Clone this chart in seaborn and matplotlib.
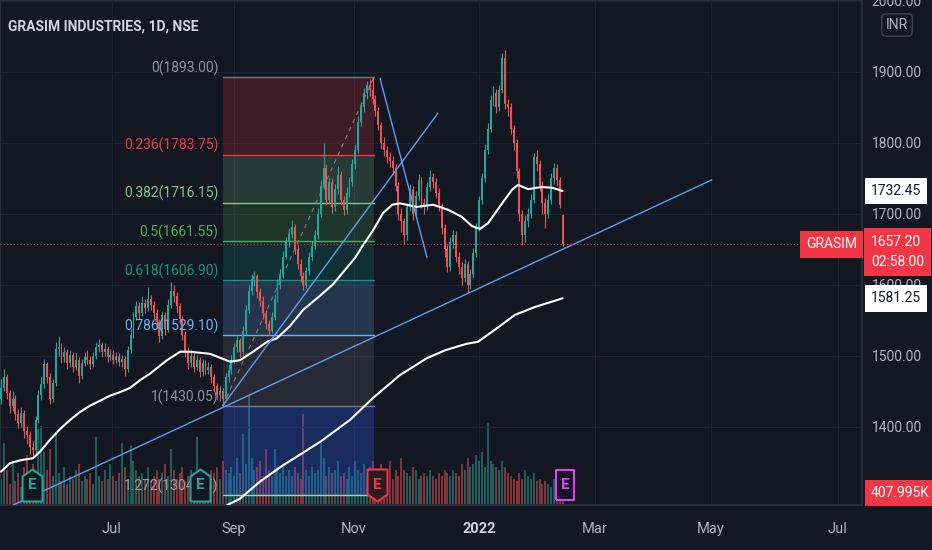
import matplotlib
matplotlib.use("Agg")
import matplotlib.pyplot as plt
from matplotlib import transforms, font_manager
from matplotlib.path import Path
import numpy as np
import pandas as pd
import seaborn as sns

# daily candles, index = bar number (mid May 2021 -> 18 Feb 2022)
opens = [1440, 1455, 1470, 1448, 1430, 1440, 1418, 1405, 1420, 1395,
         1388, 1372, 1368, 1410, 1445, 1460, 1488, 1470, 1440, 1462,
         1510, 1512, 1498, 1505, 1490, 1502, 1485, 1495, 1472, 1490,
         1498, 1495, 1488, 1500, 1512, 1515, 1505, 1510, 1498, 1502,
         1495, 1500, 1492, 1496, 1482, 1508, 1530, 1555, 1570, 1560,
         1575, 1568, 1580, 1572, 1560, 1548, 1528, 1558, 1538, 1572,
         1592, 1585, 1570, 1552, 1530, 1505, 1490, 1500, 1485, 1495,
         1478, 1490, 1480, 1485, 1470, 1458, 1445, 1450, 1440, 1470,
         1480, 1495, 1512, 1522, 1505, 1535, 1565, 1592, 1608, 1612,
         1590, 1578, 1560, 1545, 1535, 1555, 1580, 1600, 1615, 1640,
         1660, 1672, 1682, 1650, 1630, 1612, 1600, 1620, 1640, 1655,
         1670, 1700, 1740, 1765, 1720, 1745, 1710, 1735, 1755, 1720,
         1705, 1730, 1745, 1770, 1790, 1830, 1850, 1870, 1882, 1875,
         1862, 1845, 1825, 1800, 1790, 1780, 1775, 1765, 1740, 1700,
         1690, 1670, 1710, 1735, 1700, 1725, 1748, 1715, 1712, 1738,
         1752, 1745, 1730, 1712, 1680, 1650, 1625, 1660, 1670, 1640,
         1625, 1610, 1630, 1600, 1615, 1645, 1680, 1720, 1750, 1790,
         1820, 1860, 1870, 1850, 1875, 1920, 1855, 1850, 1820, 1800,
         1760, 1700, 1670, 1690, 1700, 1720, 1780, 1770, 1740, 1715,
         1700, 1720, 1750, 1765, 1748, 1698]
highs = [1468, 1482, 1474, 1452, 1450, 1445, 1425, 1428, 1424, 1402,
         1394, 1380, 1415, 1452, 1470, 1496, 1492, 1476, 1468, 1520,
         1528, 1518, 1512, 1510, 1508, 1506, 1504, 1498, 1496, 1505,
         1508, 1500, 1506, 1520, 1524, 1520, 1518, 1514, 1510, 1508,
         1506, 1504, 1502, 1500, 1514, 1538, 1562, 1578, 1576, 1584,
         1580, 1597, 1586, 1578, 1566, 1552, 1564, 1562, 1580, 1604,
         1600, 1590, 1575, 1556, 1535, 1512, 1508, 1505, 1502, 1498,
         1496, 1494, 1492, 1488, 1474, 1462, 1458, 1455, 1476, 1488,
         1502, 1518, 1530, 1526, 1542, 1572, 1600, 1616, 1620, 1616,
         1596, 1584, 1565, 1550, 1562, 1588, 1608, 1622, 1648, 1668,
         1680, 1692, 1686, 1656, 1636, 1618, 1626, 1646, 1662, 1678,
         1708, 1748, 1800, 1770, 1752, 1750, 1742, 1768, 1760, 1726,
         1738, 1752, 1778, 1798, 1838, 1858, 1878, 1888, 1890, 1893,
         1868, 1850, 1830, 1808, 1796, 1788, 1782, 1770, 1745, 1708,
         1695, 1716, 1742, 1740, 1732, 1756, 1752, 1722, 1745, 1762,
         1758, 1750, 1736, 1716, 1686, 1656, 1668, 1678, 1676, 1646,
         1632, 1636, 1634, 1622, 1652, 1688, 1726, 1758, 1798, 1828,
         1868, 1880, 1876, 1882, 1927, 1931, 1862, 1856, 1826, 1806,
         1765, 1706, 1698, 1708, 1728, 1786, 1790, 1776, 1746, 1722,
         1728, 1758, 1772, 1770, 1752, 1700]
lows = [1432, 1450, 1440, 1420, 1422, 1410, 1398, 1400, 1385, 1376,
        1362, 1358, 1362, 1405, 1438, 1455, 1462, 1432, 1435, 1458,
        1500, 1490, 1492, 1482, 1484, 1478, 1480, 1462, 1468, 1486,
        1488, 1482, 1484, 1496, 1505, 1498, 1500, 1492, 1494, 1488,
        1490, 1486, 1484, 1472, 1478, 1504, 1526, 1550, 1552, 1556,
        1560, 1564, 1565, 1552, 1540, 1520, 1524, 1530, 1534, 1568,
        1576, 1560, 1545, 1522, 1498, 1482, 1485, 1478, 1480, 1470,
        1472, 1474, 1475, 1462, 1450, 1438, 1436, 1430, 1436, 1464,
        1475, 1490, 1506, 1498, 1500, 1530, 1560, 1586, 1598, 1582,
        1570, 1552, 1538, 1530, 1532, 1550, 1576, 1594, 1610, 1636,
        1654, 1666, 1644, 1622, 1604, 1593, 1596, 1614, 1634, 1650,
        1665, 1696, 1735, 1712, 1714, 1702, 1704, 1728, 1712, 1698,
        1700, 1724, 1740, 1764, 1786, 1824, 1844, 1862, 1866, 1855,
        1838, 1818, 1792, 1782, 1772, 1766, 1756, 1732, 1692, 1675,
        1658, 1664, 1704, 1692, 1695, 1720, 1708, 1700, 1706, 1732,
        1736, 1722, 1704, 1672, 1640, 1618, 1620, 1652, 1632, 1615,
        1600, 1604, 1589, 1594, 1610, 1640, 1676, 1714, 1745, 1785,
        1815, 1852, 1842, 1845, 1870, 1848, 1838, 1812, 1790, 1750,
        1690, 1657, 1660, 1682, 1694, 1715, 1760, 1732, 1700, 1680,
        1694, 1714, 1742, 1740, 1708, 1655]
closes = [1455, 1470, 1448, 1430, 1440, 1418, 1405, 1420, 1395, 1388,
          1372, 1368, 1410, 1445, 1460, 1488, 1470, 1440, 1462, 1510,
          1512, 1498, 1505, 1490, 1502, 1485, 1495, 1472, 1490, 1498,
          1495, 1488, 1500, 1512, 1515, 1505, 1510, 1498, 1502, 1495,
          1500, 1492, 1496, 1482, 1508, 1530, 1555, 1570, 1560, 1575,
          1568, 1580, 1572, 1560, 1548, 1528, 1558, 1538, 1572, 1592,
          1585, 1570, 1552, 1530, 1505, 1490, 1500, 1485, 1495, 1478,
          1490, 1480, 1485, 1470, 1458, 1445, 1450, 1440, 1470, 1480,
          1495, 1512, 1522, 1505, 1535, 1565, 1592, 1608, 1612, 1590,
          1578, 1560, 1545, 1535, 1555, 1580, 1600, 1615, 1640, 1660,
          1672, 1682, 1650, 1630, 1612, 1600, 1620, 1640, 1655, 1670,
          1700, 1740, 1765, 1720, 1745, 1710, 1735, 1755, 1720, 1705,
          1730, 1745, 1770, 1790, 1830, 1850, 1870, 1882, 1875, 1862,
          1845, 1825, 1800, 1790, 1780, 1775, 1765, 1740, 1700, 1690,
          1670, 1710, 1735, 1700, 1725, 1748, 1715, 1712, 1738, 1752,
          1745, 1730, 1712, 1680, 1650, 1625, 1660, 1670, 1640, 1625,
          1610, 1630, 1600, 1615, 1645, 1680, 1720, 1750, 1790, 1820,
          1860, 1870, 1850, 1875, 1920, 1855, 1850, 1820, 1800, 1760,
          1700, 1670, 1690, 1700, 1720, 1780, 1770, 1740, 1715, 1700,
          1720, 1750, 1765, 1748, 1712, 1657.2]
# volume in thousands
volumes_k = [900, 2100, 1200, 700, 1500, 800, 1100, 600, 1300, 1700,
             1000, 1400, 900, 2600, 2700, 1800, 1200, 1900, 1000, 2400,
             1100, 800, 1300, 700, 1000, 900, 1200, 1400, 800, 1000,
             900, 1100, 700, 2300, 1000, 800, 1200, 900, 1400, 1000,
             800, 1100, 2100, 1300, 900, 2000, 1500, 1200, 1000, 1100,
             900, 1300, 800, 1000, 1200, 900, 1100, 1400, 1000, 1900,
             1200, 900, 1100, 1300, 800, 1000, 1200, 900, 2300, 1100,
             1000, 800, 900, 1200, 1100, 1300, 900, 1500, 1200, 1100,
             1300, 1000, 1600, 1100, 2400, 1400, 3700, 1600, 1200, 1300,
             1500, 1000, 1900, 1200, 1000, 1900, 1300, 1100, 1400, 1000,
             1200, 1000, 1300, 1100, 900, 3100, 1200, 1000, 1300, 1100,
             1200, 2100, 1600, 1000, 1300, 1100, 1200, 1500, 1000, 1100,
             900, 1300, 1000, 1500, 1200, 1100, 1400, 1000, 1300, 1500,
             1200, 1000, 1400, 1100, 1000, 1500, 900, 1200, 1000, 1600,
             1200, 1100, 1000, 1300, 1200, 900, 1000, 1100, 1000, 1200,
             1000, 900, 1100, 1000, 1200, 1100, 1000, 1200, 1100, 1000,
             1400, 1200, 1600, 1300, 1400, 1700, 1500, 1800, 1300, 2800,
             1500, 1400, 1300, 1200, 1500, 1300, 1100, 1000, 900, 800,
             1100, 900, 1200, 1000, 900, 1100, 800, 900, 700, 800,
             700, 600, 900, 500, 450, 408]

# moving averages (bar, price)
ma50_bar = [0, 3.1, 6.6, 11.1, 13.5, 17, 20.5, 24, 27.4, 30.9, 34.4, 37.8, 41.3, 44.8,
            48.3, 51.7, 57.6, 62.2, 65.6, 72.6, 79.5, 83, 87.5, 92.4, 95.8, 100.3, 104.9,
            110.8, 115.3, 119.4, 122.9, 125.7, 129.2, 132.6, 135.8, 138.5, 144.4, 150,
            155.2, 160, 163.5, 166.3, 169.1, 174, 177.4, 179.5, 183, 187.8, 191.3, 195]
ma50_val = [1337, 1349, 1353, 1356, 1365, 1382, 1397, 1410, 1421, 1430, 1437, 1444, 1449,
            1455, 1466, 1475, 1494, 1506, 1506, 1503, 1492, 1494, 1506, 1520, 1525, 1542,
            1565, 1585, 1601, 1621, 1638, 1656, 1677, 1701, 1713, 1715, 1710, 1713, 1706,
            1696, 1683, 1679, 1687, 1715, 1734, 1741, 1735, 1738, 1737, 1732.45]
ma200_bar = [78.5, 83, 89.9, 97.9, 103.8, 110.8, 121.2, 129.2, 138.5, 147.9, 154.2,
             161.5, 165.6, 171.5, 178.5, 185.4, 195]
ma200_val = [1290, 1299, 1323, 1346, 1361, 1379, 1410, 1441, 1473, 1497, 1508, 1517,
             1520, 1537, 1558, 1569, 1581.25]

month_pos = [38.5, 80.9, 122.6, 166, 206.3, 246.5, 290.6]
month_labels = ["Jul", "Sep", "Nov", "2022", "Mar", "May", "Jul"]
price_ticks = [1400, 1500, 1600, 1700, 1800, 1900, 2000]

# fibonacci retracement drawn from the Aug low to the Nov high
fib_start, fib_end = 77, 129.5
fib_ratios = ["0", "0.236", "0.382", "0.5", "0.618", "0.786", "1", "1.272"]
fib_prices = [1893.00, 1783.75, 1716.15, 1661.55, 1606.90, 1529.10, 1430.05, 1304.15]
fib_line_colors = ["#787b86", "#f23645", "#81c784", "#4caf50", "#089981", "#64b5f6", "#787b86", "#a5d6a7"]
fib_text_colors = ["#8d909a", "#f23645", "#81c784", "#4caf50", "#089981", "#64b5f6", "#8d909a", "#9a9da6"]
fib_fill_colors = ["#f23645", "#81c784", "#4caf50", "#089981", "#64b5f6", "#787b86", "#2962ff"]

trend_lines = [((4.2, 1290), (246.8, 1748)),
               ((77, 1430.05), (151.7, 1842)),
               ((131.6, 1891), (147.9, 1639))]

last_price = 1657.2

earn_bars = [10.8, 69.1, 130.5, 195.8]
earn_kind = ["up", "up", "down", "box"]
earn_colors = ["#26a69a", "#26a69a", "#f23645", "#e040fb"]

BG = "#131722"
GRID = "#20242f"
TXT = "#b2b5be"
UP = "#26a69a"
DOWN = "#ef5350"

sns.set_theme(style="dark", rc={"axes.facecolor": BG, "figure.facecolor": BG,
                                "savefig.facecolor": BG, "text.color": TXT})
names = {f.name for f in font_manager.fontManager.ttflist}
fam = "Liberation Sans Narrow" if "Liberation Sans Narrow" in names else "Roboto"
plt.rcParams["font.family"] = [fam, "DejaVu Sans"]
FS = 10

df = pd.DataFrame({"open": opens, "high": highs, "low": lows, "close": closes, "vol": volumes_k})
df["bar"] = np.arange(len(df))
df["up"] = df["close"] >= df["open"]

fig = plt.figure(figsize=(9.32, 5.5), dpi=100)
ax_vol = fig.add_axes([0, 45 / 550, 862 / 932, 505 / 550])
ax = ax_vol.twinx()
ax.set_zorder(ax_vol.get_zorder() + 1)
ax.patch.set_visible(False)
ax_vol.set_facecolor(BG)

# volume
vcols = np.where(df["up"], UP, DOWN)
ax_vol.bar(df["bar"], df["vol"], width=0.7, color=vcols, alpha=0.5, linewidth=0)
ax_vol.set_ylim(0, 17170)
ax_vol.set_yticks([])
ax_vol.set_xlim(-0.35, 298.96)
ax_vol.set_xticks(month_pos)
ax_vol.set_xticklabels(month_labels)
ax_vol.tick_params(axis="x", colors=TXT, labelsize=FS + 0.5, length=0, pad=12)
ax_vol.get_xticklabels()[3].set_fontweight("bold")
ax_vol.get_xticklabels()[3].set_color("#d1d4dc")
for x in month_pos:
    ax_vol.axvline(x, color=GRID, lw=0.8, zorder=0)
for s in ax_vol.spines.values():
    s.set_color("#2a2e39")

ax.set_ylim(1290.1, 2001.4)
ax.set_yticks(price_ticks)
ax.set_yticklabels(["%.2f" % p for p in price_ticks])
ax.tick_params(axis="y", colors=TXT, labelsize=FS, length=0, pad=7)
for p in price_ticks:
    ax.axhline(p, color=GRID, lw=0.8, zorder=0)
for s in ax.spines.values():
    s.set_color("#2a2e39")

# fib box
for i in range(len(fib_prices) - 1):
    ax.fill_between([fib_start, fib_end], fib_prices[i + 1], fib_prices[i],
                    color=fib_fill_colors[i], alpha=0.2 if i < 6 else 0.28, lw=0, zorder=1)
for r, p, lc, tc in zip(fib_ratios, fib_prices, fib_line_colors, fib_text_colors):
    ax.plot([fib_start, fib_end], [p, p], color=lc, lw=1.0, zorder=2)
    ax.text(fib_start - 1.5, p + 1.5, "%s(%.2f)" % (r, p), color=tc, fontsize=FS,
            ha="right", va="bottom", zorder=6)
ax.plot([fib_start, fib_end], [fib_prices[-2], fib_prices[0]], color="#787b86",
        lw=0.8, ls=(0, (4, 4)), zorder=2)

# candles
cols = np.where(df["up"], UP, DOWN)
ax.vlines(df["bar"], df["low"], df["high"], colors=cols, lw=0.8, zorder=3)
body = (df["close"] - df["open"]).abs().clip(lower=1.2)
ax.bar(df["bar"], body, bottom=df[["open", "close"]].min(axis=1), width=0.68,
       color=cols, linewidth=0, zorder=3)

# moving averages
sns.lineplot(x=ma50_bar, y=ma50_val, ax=ax, color="white", lw=1.5, zorder=4)
sns.lineplot(x=ma200_bar, y=ma200_val, ax=ax, color="white", lw=1.5, zorder=4)

for (x0, y0), (x1, y1) in trend_lines:
    ax.plot([x0, x1], [y0, y1], color="#5b9cf6", lw=1.0, zorder=5)

ax.axhline(last_price, color="#f23645", lw=0.8, ls=(0, (1, 2)), zorder=5)

# earnings markers
house_up = Path([(-1, -1.6), (1, -1.6), (1, 0.9), (0, 1.6), (-1, 0.9), (-1, -1.6)])
house_dn = Path([(-1, 1.6), (1, 1.6), (1, -0.9), (0, -1.6), (-1, -0.9), (-1, 1.6)])
rect = Path([(-0.6, -1), (0.6, -1), (0.6, 1), (-0.6, 1), (-0.6, -1)])
btrans = transforms.blended_transform_factory(ax.transData, ax.transAxes)
for b, k, c in zip(earn_bars, earn_kind, earn_colors):
    mk = {"up": house_up, "down": house_dn, "box": rect}[k]
    size = 470 if k == "box" else 530
    ax.scatter([b], [0.04], marker=mk, s=size, facecolor=BG if k != "down" else "#2a1a22",
               edgecolor=c, linewidth=1.5, transform=btrans, zorder=7, clip_on=False)
    ax.text(b, 0.04, "E", color=c, fontsize=FS + 1, fontweight="bold", ha="center",
            va="center", transform=btrans, zorder=8)

# title
fig.text(8 / 932, 1 - 27 / 550, "GRASIM INDUSTRIES, 1D, NSE", color="#d1d4dc",
         fontsize=FS, fontweight="bold", va="center")

# right scale tags
rtrans = transforms.blended_transform_factory(ax.transAxes, ax.transData)
vtrans = transforms.blended_transform_factory(ax.transAxes, ax_vol.transData)
def tag(y, txt, fc, tc, trans, x=1.0104, ha="left", va="center", pad=0.45, ls=1.2):
    ax.text(x, y, txt, transform=trans, ha=ha, va=va, color=tc, fontsize=FS,
            linespacing=ls, bbox=dict(boxstyle="square,pad=%s" % pad, fc=fc, ec="none"),
            clip_on=False, zorder=10)

tag(ma50_val[-1], "%.2f" % ma50_val[-1], "white", "#131722", rtrans)
tag(ma200_val[-1], "%.2f" % ma200_val[-1], "white", "#131722", rtrans)
tag(last_price, "GRASIM", "#f23645", "white", rtrans, x=0.994, ha="right")
up8 = transforms.offset_copy(rtrans, fig=fig, y=9, units="dots")
tag(last_price, "%.2f\n02:58:00" % last_price, "#f23645", "white", up8, va="top", pad=0.5, ls=1.5)
tag(volumes_k[-1], "%.3fK" % 407.995, "#f23645", "white", vtrans)

fig.text(897 / 932, 1 - 25 / 550, "INR", color=TXT, fontsize=FS, ha="center", va="center",
         bbox=dict(boxstyle="round,pad=0.3", fc=BG, ec="#434651"))

fig.savefig("out.png", dpi=100, facecolor=BG)
